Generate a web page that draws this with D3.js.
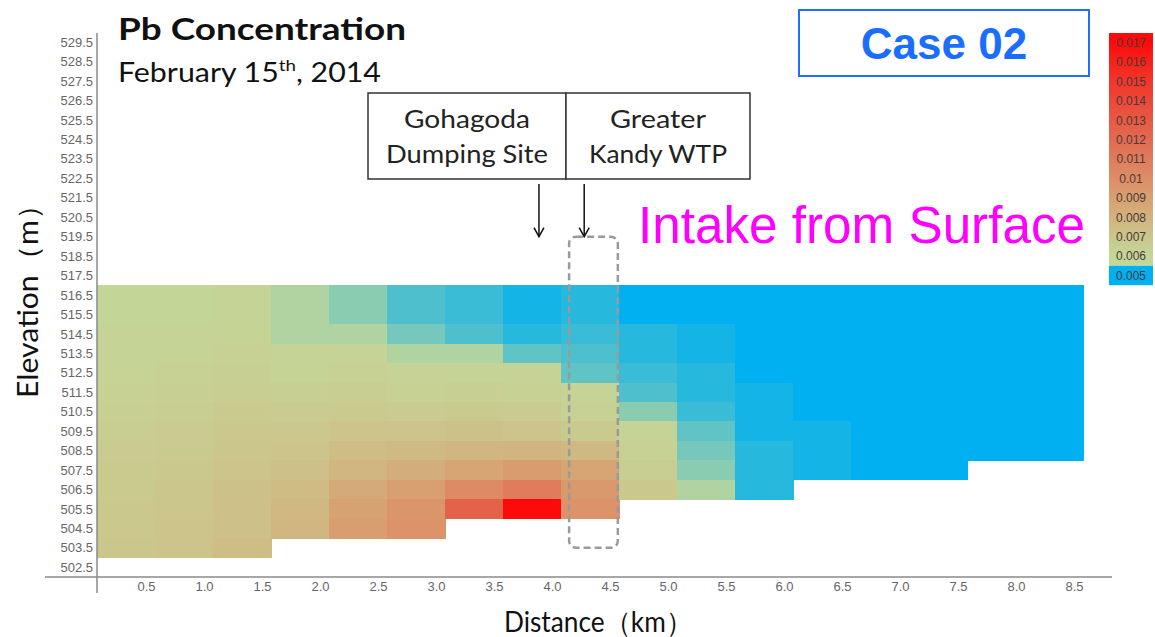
<!DOCTYPE html>
<html>
<head>
<meta charset="utf-8">
<script src="https://cdn.jsdelivr.net/npm/d3@7"></script>
<style>
    body { margin: 0; background: #fff; }
    svg { display: block; }
</style>
</head>
<body>
<svg id="chart"></svg>
<script>
// column start (km), every column is 0.5 km wide
const columnStarts = [0, 0.5, 1.0, 1.5, 2.0, 2.5, 3.0, 3.5, 4.0, 4.5, 5.0, 5.5, 6.0, 6.5, 7.0, 7.5, 8.0];
// cell centre elevation (m), top row first
const cellElevations = [516.5, 515.5, 514.5, 513.5, 512.5, 511.5, 510.5, 509.5, 508.5, 507.5, 506.5, 505.5, 504.5, 503.5];

// Pb concentration per column, top row first (null = below river bed)
const pbByColumn = [
    [0.0061, 0.0061, 0.0062, 0.0062, 0.0063, 0.0064, 0.0065, 0.0066, 0.0067, 0.0068, 0.0068, 0.0069, 0.0069, 0.0070],
    [0.0061, 0.0061, 0.0062, 0.0063, 0.0064, 0.0065, 0.0066, 0.0067, 0.0068, 0.0069, 0.0070, 0.0070, 0.0071, 0.0071],
    [0.0062, 0.0062, 0.0063, 0.0064, 0.0065, 0.0066, 0.0068, 0.0069, 0.0070, 0.0071, 0.0072, 0.0073, 0.0073, 0.0074],
    [0.0059, 0.0059, 0.0059, 0.0062, 0.0063, 0.0065, 0.0067, 0.0069, 0.0071, 0.0073, 0.0075, 0.0077, 0.0078, null],
    [0.0057, 0.0057, 0.0059, 0.0062, 0.0064, 0.0066, 0.0068, 0.0071, 0.0074, 0.0078, 0.0084, 0.0089, 0.0091, null],
    [0.0054, 0.0054, 0.0056, 0.0059, 0.0062, 0.0064, 0.0067, 0.0071, 0.0076, 0.0082, 0.0090, 0.0096, 0.0097, null],
    [0.0053, 0.0053, 0.0054, 0.0059, 0.0062, 0.0065, 0.0068, 0.0072, 0.0078, 0.0088, 0.0102, 0.0125, null, null],
    [0.0051, 0.0051, 0.0052, 0.0055, 0.0062, 0.0064, 0.0067, 0.0071, 0.0079, 0.0092, 0.0110, 0.0170, null, null],
    [0.0052, 0.0052, 0.0053, 0.0054, 0.0055, 0.0062, 0.0064, 0.0068, 0.0077, 0.0088, 0.0094, 0.0097, null, null],
    [0.0050, 0.0050, 0.0052, 0.0052, 0.0053, 0.0054, 0.0057, 0.0062, 0.0064, 0.0066, 0.0069, null, null, null],
    [0.0050, 0.0050, 0.0051, 0.0051, 0.0052, 0.0052, 0.0053, 0.0055, 0.0056, 0.0057, 0.0059, null, null, null],
    [0.0050, 0.0050, 0.0050, 0.0050, 0.0050, 0.0051, 0.0051, 0.0051, 0.0052, 0.0052, 0.0052, null, null, null],
    [0.0050, 0.0050, 0.0050, 0.0050, 0.0050, 0.0050, 0.0050, 0.0051, 0.0051, 0.0051, null, null, null, null],
    [0.0050, 0.0050, 0.0050, 0.0050, 0.0050, 0.0050, 0.0050, 0.0050, 0.0050, 0.0050, null, null, null, null],
    [0.0050, 0.0050, 0.0050, 0.0050, 0.0050, 0.0050, 0.0050, 0.0050, 0.0050, 0.0050, null, null, null, null],
    [0.0050, 0.0050, 0.0050, 0.0050, 0.0050, 0.0050, 0.0050, 0.0050, 0.0050, null, null, null, null, null],
    [0.0050, 0.0050, 0.0050, 0.0050, 0.0050, 0.0050, 0.0050, 0.0050, 0.0050, null, null, null, null, null]
];

const distanceTicks = [0.5, 1.0, 1.5, 2.0, 2.5, 3.0, 3.5, 4.0, 4.5, 5.0, 5.5, 6.0, 6.5, 7.0, 7.5, 8.0, 8.5];
const elevationTicks = [529.5, 528.5, 527.5, 526.5, 525.5, 524.5, 523.5, 522.5, 521.5, 520.5, 519.5, 518.5, 517.5,
    516.5, 515.5, 514.5, 513.5, 512.5, 511.5, 510.5, 509.5, 508.5, 507.5, 506.5, 505.5, 504.5, 503.5, 502.5];
const legendValues = [0.017, 0.016, 0.015, 0.014, 0.013, 0.012, 0.011, 0.010, 0.009, 0.008, 0.007, 0.006, 0.005];
const legendColors = ['#ff0a0a', '#f8221a', '#f2362a', '#ec4838', '#e75a44', '#e36a50', '#e07c5c',
    '#dd8e66', '#d8a070', '#d2b27e', '#cbc68c', '#c3d898', '#00b0f0'];

const width = 1155, height = 637;
const tickFont = '"Liberation Sans", Arial, sans-serif';
const textFont = 'Lato, "Open Sans", sans-serif';

const svg = d3.select('#chart')
    .attr('width', width)
    .attr('height', height);

const x = d3.scaleLinear().domain([0, 8.75]).range([97, 1112]);
const y = d3.scaleLinear().domain([502, 530]).range([577, 32.4]);
const color = d3.scaleLinear().domain(legendValues).range(legendColors);

/**
 * Concentration cells
 */
const cells = [];
pbByColumn.forEach((col, c) => col.forEach((v, r) => {
    if (v !== null)
        cells.push({km: columnStarts[c], elev: cellElevations[r], value: v});
}));

svg.append('g')
    .attr('shape-rendering', 'crispEdges')
    .selectAll('rect')
    .data(cells)
    .enter().append('rect')
    .attr('x', d => x(d.km))
    .attr('y', d => y(d.elev + 0.5))
    .attr('width', d => x(d.km + 0.5) - x(d.km) + 0.5)
    .attr('height', d => y(d.elev - 0.5) - y(d.elev + 0.5) + 0.5)
    .attr('fill', d => color(d.value));

/**
 * Axes
 */
const axisColor = '#8a8a8a';
svg.append('line')
    .attr('x1', x(0)).attr('x2', x(0))
    .attr('y1', 33).attr('y2', 593)
    .attr('stroke', axisColor).attr('stroke-width', 1.5);
svg.append('line')
    .attr('x1', 45).attr('x2', x(8.75))
    .attr('y1', y(502)).attr('y2', y(502))
    .attr('stroke', axisColor).attr('stroke-width', 1.5);

const yAxis = svg.append('g')
    .attr('transform', `translate(${x(0) - 1},0)`)
    .call(d3.axisLeft(y).tickValues(elevationTicks).tickSize(0).tickPadding(3).tickFormat(d3.format('.1f')));
yAxis.select('.domain').remove();
yAxis.selectAll('text')
    .attr('font-family', tickFont)
    .attr('font-size', 13)
    .attr('fill', '#666');

const xAxis = svg.append('g')
    .attr('transform', `translate(0,${y(502)})`)
    .call(d3.axisBottom(x).tickValues(distanceTicks).tickSize(0).tickPadding(5).tickFormat(d3.format('.1f')));
xAxis.select('.domain').remove();
xAxis.selectAll('text')
    .attr('dx', -9)
    .attr('font-family', tickFont)
    .attr('font-size', 13)
    .attr('fill', '#666');

svg.append('text')
    .attr('transform', 'translate(38,294) rotate(-90)')
    .attr('text-anchor', 'middle')
    .attr('font-family', textFont)
    .attr('font-size', 28)
    .attr('fill', '#111')
    .attr('textLength', 208)
    .attr('lengthAdjust', 'spacingAndGlyphs')
    .text('Elevation（m）');

svg.append('text')
    .attr('x', 598).attr('y', 632)
    .attr('text-anchor', 'middle')
    .attr('font-family', textFont)
    .attr('font-size', 28)
    .attr('fill', '#111')
    .attr('textLength', 188)
    .attr('lengthAdjust', 'spacingAndGlyphs')
    .text('Distance（km）');

/**
 * Titles
 */
svg.append('text')
    .attr('x', 118).attr('y', 40)
    .attr('font-family', textFont)
    .attr('font-weight', 'bold')
    .attr('font-size', 30)
    .attr('fill', '#111')
    .attr('textLength', 288)
    .attr('lengthAdjust', 'spacingAndGlyphs')
    .text('Pb Concentration');

const sub = svg.append('text')
    .attr('x', 118).attr('y', 82)
    .attr('font-family', textFont)
    .attr('font-size', 26)
    .attr('fill', '#111')
    .attr('textLength', 263)
    .attr('lengthAdjust', 'spacingAndGlyphs');
sub.append('tspan').text('February 15');
sub.append('tspan').attr('font-size', 16).attr('dy', -11).text('th');
sub.append('tspan').attr('dy', 11).text(', 2014');

svg.append('rect')
    .attr('x', 799).attr('y', 10)
    .attr('width', 290).attr('height', 66)
    .attr('fill', 'none')
    .attr('stroke', '#1f6fff')
    .attr('stroke-width', 2);
svg.append('text')
    .attr('x', 944).attr('y', 59)
    .attr('text-anchor', 'middle')
    .attr('font-family', tickFont)
    .attr('font-weight', 'bold')
    .attr('font-size', 44)
    .attr('fill', '#1a6eff')
    .text('Case 02');

svg.append('text')
    .attr('x', 638).attr('y', 243)
    .attr('font-family', tickFont)
    .attr('font-size', 51)
    .attr('fill', '#ff00ff')
    .attr('textLength', 447)
    .attr('lengthAdjust', 'spacingAndGlyphs')
    .text('Intake from Surface');

/**
 * Site labels with arrows
 */
const sites = [
    {lines: ['Gohagoda', 'Dumping Site'], widths: [126, 162], x0: 368, x1: 566, arrowKm: 3.81},
    {lines: ['Greater', 'Kandy WTP'], widths: [96, 138], x0: 566, x1: 750, arrowKm: 4.2}
];
sites.forEach(s => {
    svg.append('rect')
        .attr('x', s.x0).attr('y', 93)
        .attr('width', s.x1 - s.x0).attr('height', 86)
        .attr('fill', '#fff')
        .attr('stroke', '#333')
        .attr('stroke-width', 1.5);
    s.lines.forEach((t, i) => svg.append('text')
        .attr('x', (s.x0 + s.x1) / 2).attr('y', 128 + i * 35)
        .attr('text-anchor', 'middle')
        .attr('font-family', textFont)
        .attr('font-size', 25)
        .attr('fill', '#222')
        .attr('textLength', s.widths[i])
        .attr('lengthAdjust', 'spacingAndGlyphs')
        .text(t));
    const ax = x(s.arrowKm), top = y(522.2), tip = y(519.5);
    svg.append('line')
        .attr('x1', ax).attr('x2', ax)
        .attr('y1', top).attr('y2', tip)
        .attr('stroke', '#111').attr('stroke-width', 1.5);
    svg.append('path')
        .attr('d', `M${ax - 5},${tip - 9}L${ax},${tip}L${ax + 5},${tip - 9}`)
        .attr('fill', 'none')
        .attr('stroke', '#111').attr('stroke-width', 1.5);
});

// intake column
svg.append('rect')
    .attr('x', x(4.07)).attr('y', y(519.5))
    .attr('width', x(4.49) - x(4.07))
    .attr('height', y(503.5) - y(519.5))
    .attr('rx', 7)
    .attr('fill', 'none')
    .attr('stroke', '#9a9a9a')
    .attr('stroke-width', 2.5)
    .attr('stroke-dasharray', '7,4');

/**
 * Colour legend
 */
const lg = {x: 1109, y: 33, w: 44, step: 19.4};
const grad = svg.append('defs').append('linearGradient')
    .attr('id', 'pbGrad')
    .attr('x1', 0).attr('x2', 0).attr('y1', 0).attr('y2', 1);
legendValues.slice(0, -1).forEach((v, i) => grad.append('stop')
    .attr('offset', (i + 0.5) / 12)
    .attr('stop-color', color(v)));

svg.append('rect')
    .attr('x', lg.x).attr('y', lg.y)
    .attr('width', lg.w).attr('height', lg.step * 12)
    .attr('fill', 'url(#pbGrad)');
svg.append('rect')
    .attr('x', lg.x).attr('y', lg.y + lg.step * 12)
    .attr('width', lg.w).attr('height', lg.step)
    .attr('fill', color(0.005));

svg.append('g')
    .selectAll('text')
    .data(legendValues)
    .enter().append('text')
    .attr('x', lg.x + lg.w / 2)
    .attr('y', (d, i) => lg.y + lg.step * (i + 0.5))
    .attr('dy', '0.35em')
    .attr('text-anchor', 'middle')
    .attr('font-family', tickFont)
    .attr('font-size', 12)
    .attr('fill', '#4a3a3a')
    .text(d => d3.format('')(d));
</script>
</body>
</html>
